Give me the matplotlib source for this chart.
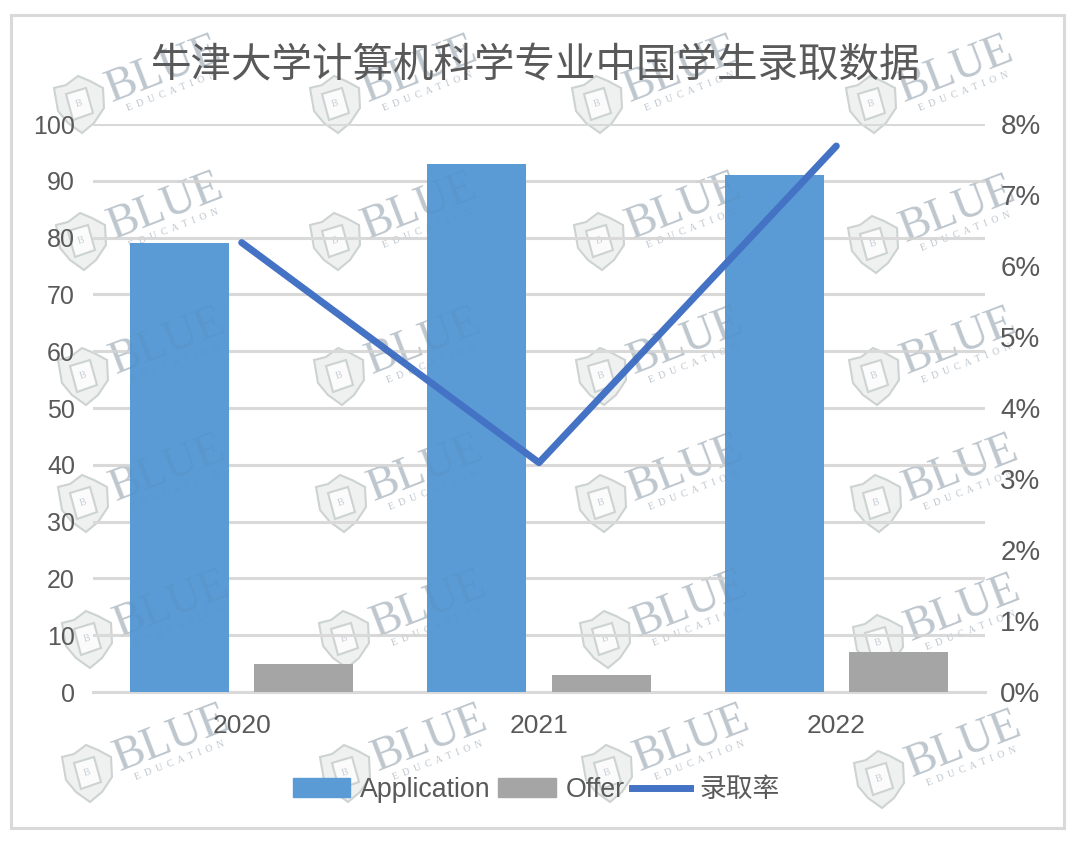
import matplotlib
matplotlib.use("Agg")
import matplotlib.pyplot as plt
import numpy as np
from matplotlib.lines import Line2D
from matplotlib.patches import Patch, Polygon, Rectangle
from matplotlib.ticker import PercentFormatter
from matplotlib.transforms import Affine2D

years = ["2020", "2021", "2022"]
application = [79, 93, 91]
offer = [5, 3, 7]
rate = [6.33, 3.23, 7.69]

title = "牛津大学计算机科学专业中国学生录取数据"

# shield centres of the repeated watermark, in image pixels
wm_x = [
    [78, 334, 596, 870],
    [80, 334, 598, 872],
    [82, 338, 600, 873],
    [82, 340, 600, 875],
    [86, 343, 604, 877],
    [86, 344, 606, 878],
]
wm_y = [
    [103, 103, 103, 103],
    [240, 240, 240, 243],
    [375, 375, 375, 375],
    [502, 502, 502, 502],
    [638, 638, 638, 642],
    [772, 772, 772, 778],
]

W, H = 1080, 848
GREY = "#595959"
GRID = "#d9d9d9"
WM = "#c6ced6"

plt.rcParams["font.family"] = ["Liberation Sans", "Noto Sans CJK SC", "DejaVu Sans"]

fig = plt.figure(figsize=(W / 100, H / 100), dpi=100, facecolor="white")


def pixel_axes(zorder):
    a = fig.add_axes([0, 0, 1, 1], facecolor="none", zorder=zorder)
    a.set_xlim(0, W)
    a.set_ylim(H, 0)
    a.axis("off")
    return a


def wm_text(a, cx, cy, color, alpha):
    a.text(cx + 86, cy - 33, "BLUE", fontsize=33, color=color, ha="center", va="center",
           rotation=21, rotation_mode="anchor", family="Liberation Serif", alpha=alpha)
    a.text(cx + 94, cy - 11, "E  D  U  C  A  T  I  O  N", fontsize=7, color=color,
           ha="center", va="center", rotation=21, rotation_mode="anchor",
           family="Liberation Serif", alpha=alpha)


# watermark goes under the chart, plus a very faint copy of the words on top of the bars
under = pixel_axes(0)
under.add_patch(Rectangle((11, 15), 1053, 813, fill=False, ec=GRID, lw=2.2))
top = pixel_axes(4)

shield = np.array([[-24, -15], [-12, -18], [0, -27], [12, -22], [25, -15], [26, 5],
                   [16, 20], [4, 30], [-10, 20], [-20, 8]])
book = np.array([[-12, -9], [8, -15], [15, 10], [-5, 17]])

for row_x, row_y in zip(wm_x, wm_y):
    for cx, cy in zip(row_x, row_y):
        move = Affine2D().translate(cx, cy)
        under.add_patch(Polygon(move.transform(shield), fc="#eef1ef", ec="#ccd3d2", lw=1.5))
        under.add_patch(Polygon(move.transform(book), fc="#fbfbfb", ec="#ccd3d2", lw=1.5))
        under.text(cx + 1, cy + 1, "B", fontsize=7, color=WM, ha="center", va="center",
                   rotation=17, family="Liberation Serif")
        wm_text(under, cx, cy, WM, 1)
        wm_text(top, cx, cy, "#3f4a55", 0.06)

# plot area 93..985 x 124..692 px
ax = fig.add_axes([93 / W, 1 - 692 / H, 892 / W, 568 / H], facecolor="none", zorder=1)
x = np.arange(len(years))
ax.bar(x - 0.209, application, width=0.333, color="#5b9bd5", zorder=3)
ax.bar(x + 0.209, offer, width=0.333, color="#a5a5a5", zorder=3)
ax.set_xlim(-0.5, 2.5)
ax.set_ylim(0, 100)
ax.set_yticks(range(0, 101, 10))
ax.set_xticks(x)
ax.set_xticklabels(years)
ax.grid(axis="y", color=GRID, lw=2.2, zorder=0)
ax.tick_params(axis="y", length=0, pad=13, labelsize=18, labelcolor=GREY)
ax.tick_params(axis="x", length=0, pad=16, labelsize=19, labelcolor=GREY)
for s in ["top", "left", "right"]:
    ax.spines[s].set_visible(False)
ax.spines["bottom"].set_color(GRID)
ax.spines["bottom"].set_linewidth(2.2)

ax2 = ax.twinx()
ax2.set_zorder(2)
ax2.plot(x, rate, color="#4472c4", lw=5, solid_capstyle="round", zorder=4)
ax2.set_ylim(0, 8)
ax2.set_yticks(range(0, 9))
ax2.yaxis.set_major_formatter(PercentFormatter(decimals=0))
ax2.tick_params(axis="y", length=0, pad=11, labelsize=20, labelcolor=GREY)
for s in ax2.spines.values():
    s.set_visible(False)

fig.text(536 / W, 1 - 66 / H, title, ha="center", va="center", fontsize=29.2,
         color=GREY, family=["Noto Sans CJK SC", "DejaVu Sans"], zorder=5)

handles = [
    Patch(color="#5b9bd5"),
    Patch(color="#a5a5a5"),
    Line2D([0], [0], color="#4472c4", lw=5),
]
leg = fig.legend(handles, ["Application", "Offer", "录取率"], loc="center",
                 bbox_to_anchor=(536 / W, 1 - 790 / H), ncol=3, frameon=False,
                 fontsize=19.3, labelcolor=GREY, handlelength=2.15, handleheight=0.7,
                 handletextpad=0.36, columnspacing=0.28, borderpad=0, borderaxespad=0)
leg.set_zorder(5)

fig.savefig("out.png", dpi=100)
